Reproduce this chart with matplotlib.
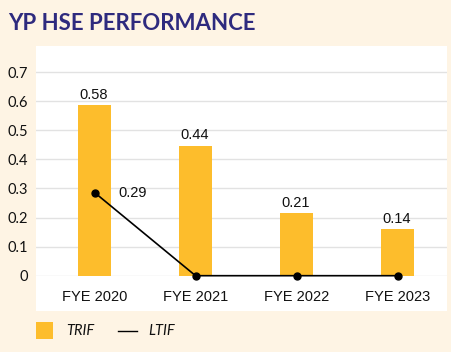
import matplotlib
matplotlib.use("Agg")
import matplotlib.pyplot as plt
from matplotlib.patches import Rectangle
from matplotlib.lines import Line2D

categories = ["FYE 2020", "FYE 2021", "FYE 2022", "FYE 2023"]
trif = [0.587, 0.447, 0.215, 0.16]
trif_labels = ["0.58", "0.44", "0.21", "0.14"]
ltif = [0.286, 0.0, 0.0, 0.0]
ltif_labels = ["0.29", None, None, None]
yticks = [0, 0.1, 0.2, 0.3, 0.4, 0.5, 0.6, 0.7]
ytick_labels = ["0", "0.1", "0.2", "0.3", "0.4", "0.5", "0.6", "0.7"]

BG = "#fef4e4"
BAR = "#fdbd2c"
NAVY = "#2e2a7e"

W, H = 452, 352
fig = plt.figure(figsize=(W / 100, H / 100), dpi=100, facecolor=BG)

# white panel
fig.patches.append(Rectangle((36 / W, 1 - 311 / H), (447 - 36) / W, (311 - 46) / H,
                             transform=fig.transFigure, facecolor="white", edgecolor="none", zorder=-5))

fig.text(8 / W, 1 - 24 / H, "YP HSE PERFORMANCE", fontsize=16, fontweight="bold",
         color=NAVY, ha="left", va="center", family="Lato")

ax = fig.add_axes([36 / W, 1 - 275.7 / H, (447 - 36) / W, (275.7 - 46) / H])
ax.set_zorder(2)
ax.set_facecolor("none")
x = list(range(len(categories)))
ax.bar(x, trif, width=0.33, color=BAR, zorder=2)
ax.plot(x, ltif, color="black", lw=1.2, marker="o", markersize=5, zorder=3, clip_on=False)

for xi, v, lab in zip(x, trif, trif_labels):
    ax.annotate(lab, (xi, v), xytext=(-1, 2.5), textcoords="offset points",
                ha="center", va="bottom", fontsize=10.5, color="#111111", family="Liberation Sans")
for xi, v, lab in zip(x, ltif, ltif_labels):
    if lab:
        ax.annotate(lab, (xi, v), xytext=(17, 0), textcoords="offset points",
                    ha="left", va="center", fontsize=10.5, color="#111111", family="Liberation Sans")

ax.set_xlim(-0.58, 3.49)
ax.set_ylim(0, 0.79)
ax.set_yticks(yticks)
ax.set_yticklabels(ytick_labels, family="Lato", fontsize=10.5)
ax.set_xticks(x)
ax.set_xticklabels(categories, family="Liberation Sans", fontsize=10.5)
ax.tick_params(axis="both", length=0, colors="#111111")
ax.tick_params(axis="x", pad=10)
ax.tick_params(axis="y", pad=6)
ax.grid(axis="y", color="#e2e2e2", lw=1, zorder=0)
ax.set_axisbelow(True)
for s in ax.spines.values():
    s.set_visible(False)

# legend
fig.patches.append(Rectangle((36 / W, 1 - 339 / H), 17 / W, 17 / H, transform=fig.transFigure,
                             facecolor=BAR, edgecolor="none"))
fig.text(66 / W, 1 - 331 / H, "TRIF", fontsize=10.5, style="italic", ha="left", va="center",
         color="#111111", family="Lato")
fig.lines.append(Line2D([118 / W, 137 / W], [1 - 331 / H, 1 - 331 / H], transform=fig.transFigure,
                        color="black", lw=1))
fig.text(148 / W, 1 - 331 / H, "LTIF", fontsize=10.5, style="italic", ha="left", va="center",
         color="#111111", family="Lato")

fig.savefig("out.png", dpi=100, facecolor=BG)
